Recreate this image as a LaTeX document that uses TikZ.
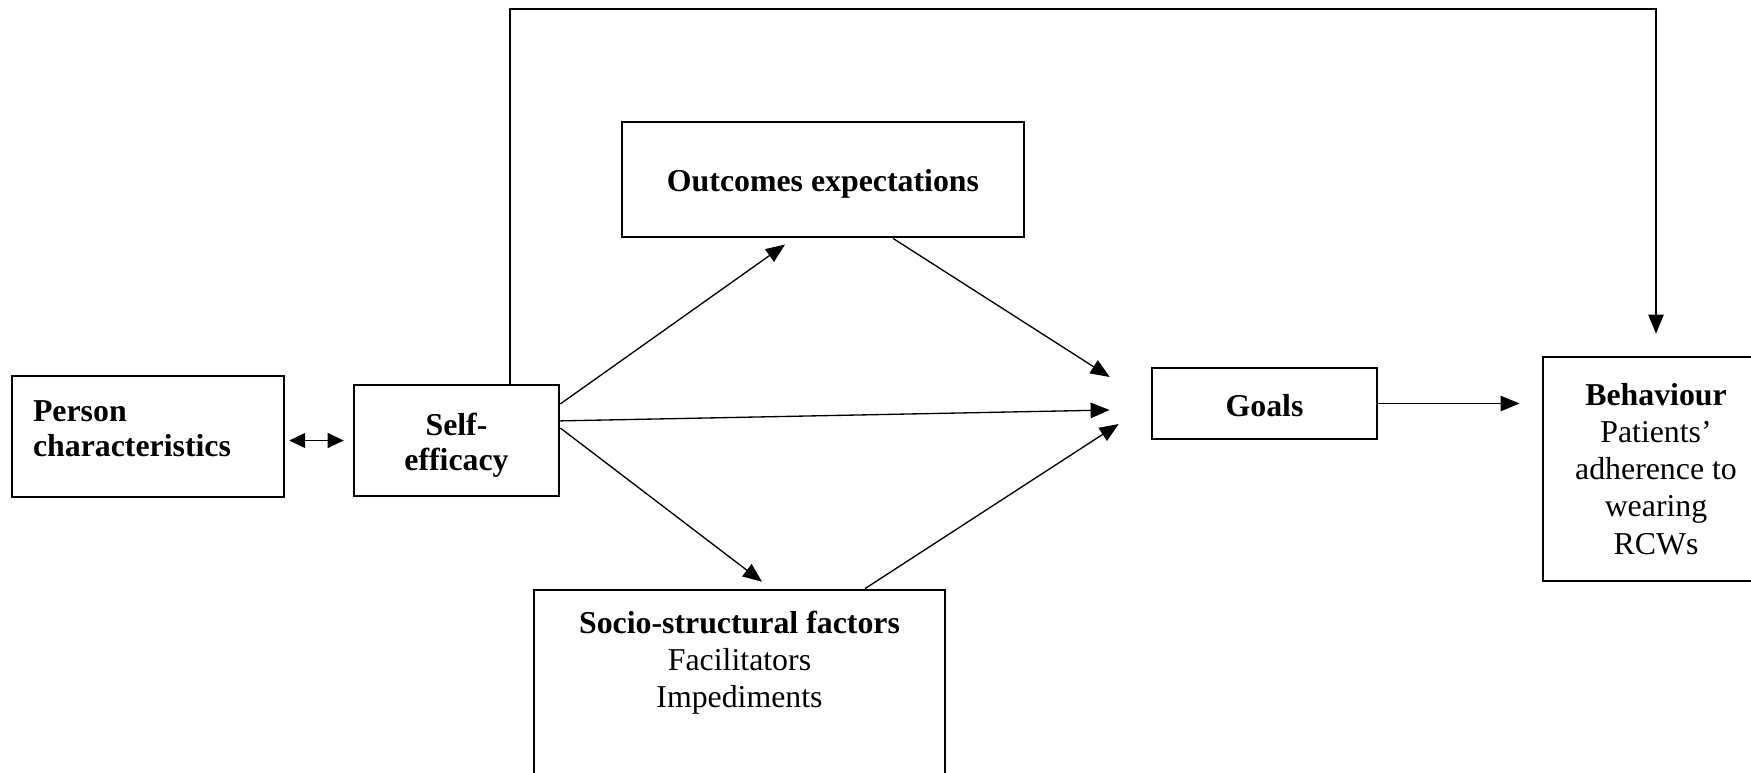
\documentclass[tikz,border=0pt]{standalone}
\usepackage{fontspec}
\setmainfont{Liberation Serif}
\usetikzlibrary{arrows.meta, positioning}

\begin{document}
\begin{tikzpicture}[
  x=0.377pt, y=-0.377pt,
  font=\fontsize{12}{14}\selectfont,
  box/.style={draw, line width=1pt, align=center, inner sep=0pt},
  tight/.style={font=\fontsize{12}{13}\selectfont},
  signal/.style={-{Triangle[length=7.2pt, width=5.8pt]}, line width=0.5pt},
  twoway/.style={{Triangle[length=6pt, width=5.6pt]}-{Triangle[length=6pt, width=5.6pt]}, line width=0.6pt}
]

\useasboundingbox (0,0) rectangle (1751,772);

% Boxes
\node[box, tight, align=left, text width=86.7pt, inner xsep=7.9pt, minimum height=45.6pt] (person) at (148,436.5) {\textbf{Person}\\\textbf{characteristics}\rule[-6pt]{0pt}{6pt}};
\node[box, tight, minimum width=77.3pt, minimum height=41.8pt] (self) at (456.5,440.5) {\rule{0pt}{12pt}\textbf{Self-}\\\textbf{efficacy}};
\node[box, minimum width=151.6pt, minimum height=43.4pt, text height=11.5pt] (outcomes) at (823,179.5) {\textbf{Outcomes expectations}};
\node[box, minimum width=84.8pt, minimum height=26.8pt, text height=10pt] (goals) at (1264.5,403.5) {\textbf{Goals}};
\node[box, minimum width=85.2pt, minimum height=84.4pt] (behav) at (1656,469) {\textbf{Behaviour}\\Patients’\\adherence to\\wearing\\RCWs};
\node[box, minimum width=155pt, minimum height=79.2pt] (socio) at (739.5,695) {};
\node[anchor=north, align=center, inner sep=0pt] (sociotext) at ([yshift=-8.3pt]socio.north) {\textbf{Socio-structural factors}\\Facilitators\\Impediments};

% Free ends in front of Goals
\coordinate (gin1) at ([shift={(-41,-26.5)}]goals.west);
\coordinate (gin2) at ([shift={(-41,6.5)}]goals.west);
\coordinate (gin3) at ([shift={(-32,20.5)}]goals.west);

% Person <-> Self-efficacy
\draw[twoway, shorten <=1.5pt, shorten >=3.4pt] (self.west -| person.east) -- (self.west);

% From Self-efficacy
\draw[signal] ([yshift=13.8pt]self.east) -- ([xshift=-14.3pt, yshift=-2.3pt]outcomes.south);
\draw[signal] ([yshift=7.4pt]self.east) -- (gin2);
\draw[signal] ([yshift=4.7pt]self.east) -- ([xshift=8.5pt, yshift=2.6pt]socio.north);

% Into Goals
\draw[signal] ([xshift=26.4pt]outcomes.south) -- (gin1);
\draw[signal] ([xshift=47.3pt]socio.north) -- (gin3);

% Goals -> Behaviour
\draw[signal, shorten >=8.3pt] (goals.east) -- (goals.east -| behav.west);

% Feedback line over the top
\coordinate (fbstart) at ([xshift=20.2pt]self.north);
\coordinate (fbtop) at (1656,9);
\draw[signal, shorten >=8.3pt] (fbstart) |- (fbtop) -- (behav.north);

\end{tikzpicture}
\end{document}
